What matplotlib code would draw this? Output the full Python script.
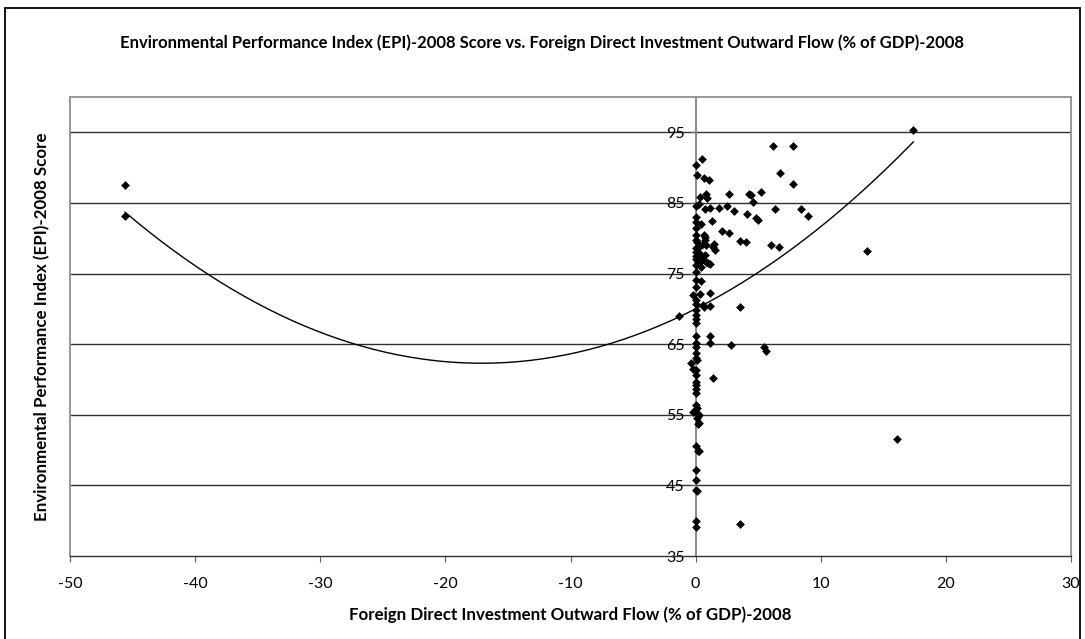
import matplotlib
matplotlib.use("Agg")
from matplotlib import pyplot as plt
from matplotlib.patches import Rectangle
import numpy as np

plt.rcParams['font.family'] = ['Lato', 'DejaVu Sans']
plt.rcParams['axes.unicode_minus'] = False

# values
fdi_outflow = [
    -45.6, -45.6, 17.4, 13.7, 16.1, 3.53, 3.53, 2.86, 5.45, 5.6, 1.39, -1.36,
    6.2, 7.75, 0.54, 0.0, 6.76, 0.08, 0.64, 1.1, 7.75, 5.2, 0.32, 0.8,
    0.9, 2.65, 4.25, 4.4, 4.55, 0.0, 0.3, 0.75, 1.12, 1.87, 2.54, 3.1,
    6.33, 8.45, 9.0, 4.07, 4.8, 5.0, 0.0, 0.0, 0.4, 1.3, 2.1, 2.67,
    0.0, 0.0, 0.67, 0.72, 0.78, 0.0, 0.13, 3.53, 4.0, 6.0, 6.7, 0.86,
    1.47, 1.36, 0.59, 1.58, 0.0, 0.32, 0.72, 0.0, 0.54, 0.99, 1.12, 0.4,
    0.0, 0.86, 0.0, 0.46, 0.0, 0.0, 0.37, 1.17, -0.2, 0.0, 0.0, 0.6,
    0.64, 1.12, 0.0, 0.0, 0.0, 0.0, 1.12, 0.0, 1.18, 0.0, 0.0, 0.0,
    0.0, -0.35, 0.1, -0.2, 0.0, 0.0, 0.0, 0.0, 0.0, 0.0, 0.0, 0.1,
    0.0, -0.2, 0.2, 0.3, 0.1, 0.25, 0.2, 0.0, 0.2, 0.25, 0.0, 0.0,
    0.0, 0.1, 0.0, 0.0, 0.0, 0.3, 0.0, 0.2,
]
epi_score = [
    87.5, 83.2, 95.3, 78.2, 51.5, 39.6, 70.2, 64.9, 64.6, 64.1, 60.2, 69.0,
    93.0, 93.0, 91.2, 90.4, 89.3, 88.9, 88.6, 88.3, 87.7, 86.5, 85.9, 86.2,
    85.7, 86.2, 86.2, 86.1, 85.2, 84.6, 84.8, 84.1, 84.3, 84.3, 84.5, 83.8,
    84.1, 84.1, 83.1, 83.4, 82.9, 82.6, 83.0, 82.3, 82.0, 82.5, 81.0, 80.8,
    81.4, 80.4, 80.4, 80.2, 79.8, 79.7, 79.5, 79.6, 79.5, 79.0, 78.7, 79.0,
    79.2, 78.7, 79.2, 78.4, 78.0, 77.8, 77.6, 77.1, 76.9, 76.5, 76.3, 75.9,
    76.2, 76.6, 75.2, 74.0, 74.1, 73.1, 72.1, 72.2, 71.9, 71.3, 70.7, 70.6,
    70.3, 70.4, 69.9, 69.1, 68.6, 68.0, 66.1, 66.1, 65.2, 65.2, 64.6, 63.0,
    63.8, 62.3, 62.7, 61.5, 61.3, 60.6, 59.7, 59.2, 58.7, 58.1, 56.4, 55.9,
    55.4, 55.4, 55.1, 54.9, 54.5, 53.9, 53.7, 50.6, 49.9, 49.8, 47.2, 45.8,
    44.4, 44.2, 40.0, 39.1, 78.6, 78.8, 77.5, 76.6,
]

# polynomial (order 2) trendline coefficients
trend_coef = [0.02633, 0.9005, 70.0]

x_ticks = [-50, -40, -30, -20, -10, 0, 10, 20, 30]
y_ticks = [35, 45, 55, 65, 75, 85, 95]

title = "Environmental Performance Index (EPI)-2008 Score vs. Foreign Direct Investment Outward Flow (% of GDP)-2008"
x_title = "Foreign Direct Investment Outward Flow (% of GDP)-2008"
y_title = "Environmental Performance Index (EPI)-2008 Score"

W, H = 1085, 639
fig = plt.figure(figsize=(W / 100, H / 100), dpi=100)
ax = fig.add_axes([70 / W, 1 - 556 / H, (1071 - 70) / W, (556 - 97) / H])

ax.set_xlim(-50, 30)
ax.set_ylim(35, 100)
ax.set_xticks(x_ticks)
ax.set_yticks(y_ticks)

for yv in y_ticks[1:]:
    ax.axhline(yv, color="#303030", lw=1.0, zorder=1)

ax.scatter(fdi_outflow, epi_score, marker="D", s=20, color="black", zorder=3, linewidths=0)

xs = np.linspace(min(fdi_outflow), max(fdi_outflow), 200)
ax.plot(xs, np.polyval(trend_coef, xs), color="black", lw=1.0, zorder=2)

# y axis crosses at x = 0, as in the Excel chart
ax.spines["left"].set_position(("data", 0))
ax.spines["left"].set_color("#808080")
ax.spines["left"].set_linewidth(1.3)
for side in ["top", "right"]:
    ax.spines[side].set_color("#909090")
    ax.spines[side].set_linewidth(1.3)
ax.spines["bottom"].set_color("#303030")
ax.spines["bottom"].set_linewidth(1.0)
ax.plot([0, 0], [0, 1], transform=ax.transAxes, color="#909090", lw=1.3, clip_on=False)

ax.tick_params(axis="y", direction="out", length=4, color="#606060", labelsize=11.5, pad=4)
ax.tick_params(axis="x", direction="out", length=4, color="#606060", labelsize=11.5, pad=11)

ax.set_xlabel(x_title, fontsize=12.2, fontweight="bold", labelpad=11)
fig.text(42 / W, 1 - 327 / H, y_title, rotation=90, ha="center", va="center",
         fontsize=12.2, fontweight="bold")
fig.text(542 / W, 1 - 43 / H, title, ha="center", va="center", fontsize=12, fontweight="bold")

fig.patches.append(Rectangle((5 / W, -0.05), (1080 - 5) / W, 1 - 8 / H + 0.05,
                             transform=fig.transFigure, fill=False, ec="black", lw=1.3))

fig.savefig("out.png", dpi=100)
